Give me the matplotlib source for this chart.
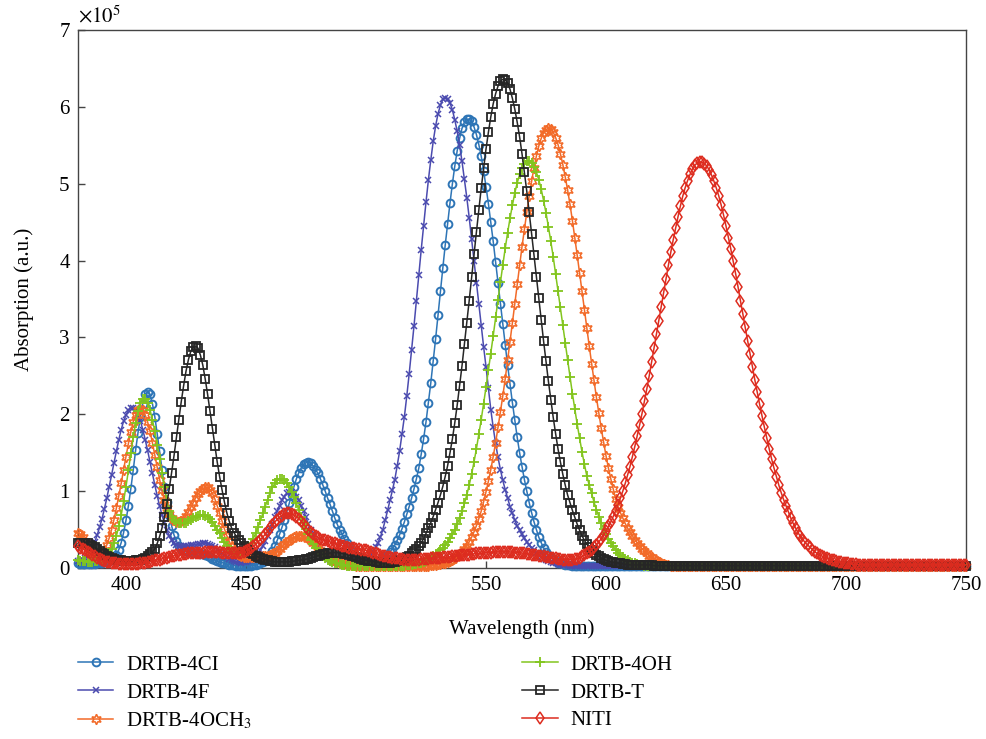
import numpy as np
import matplotlib
matplotlib.use('Agg')
import matplotlib.pyplot as plt

plt.rcParams['font.family'] = ['Liberation Serif', 'DejaVu Serif']
plt.rcParams['mathtext.fontset'] = 'stix'

# ---------------- data (absorption in units of 1e5 a.u.) ----------------
wavelength = np.arange(380, 751, 1)  # nm, 1 nm sampling (380 ... 750)

labels = ['DRTB-4CI', 'DRTB-4F', 'DRTB-4OCH$_3$', 'DRTB-4OH', 'DRTB-T', 'NITI']

absorb_4cl = [
    .06, .055, .05, .05, .05, .05, .05, .055, .06, .065,            # 380
    .07, .075, .08, .09, .10, .13, .17, .24, .33, .46,              # 390
    .62, .81, 1.03, 1.27, 1.53, 1.76, 1.97, 2.14, 2.26, 2.29,       # 400
    2.26, 2.14, 1.97, 1.75, 1.52, 1.28, 1.05, .86, .69, .55,        # 410
    .43, .35, .29, .25, .23, .22, .21, .205, .20, .195,             # 420
    .19, .185, .18, .17, .16, .14, .12, .105, .09, .08,             # 430
    .07, .06, .05, .045, .04, .035, .03, .03, .03, .03,             # 440
    .03, .03, .03, .035, .04, .05, .06, .08, .10, .13,              # 450
    .17, .22, .28, .36, .44, .53, .63, .73, .84, .95,               # 460
    1.06, 1.16, 1.24, 1.30, 1.35, 1.37, 1.38, 1.36, 1.33, 1.28,     # 470
    1.23, 1.16, 1.08, 1.00, .91, .83, .74, .65, .57, .50,           # 480
    .44, .38, .32, .27, .22, .18, .15, .12, .10, .08,               # 490
    .07, .065, .06, .065, .07, .085, .10, .12, .14, .17,            # 500
    .21, .25, .30, .36, .43, .51, .60, .70, .80, .91,               # 510
    1.03, 1.16, 1.30, 1.48, 1.68, 1.90, 2.15, 2.41, 2.69, 2.98,     # 520
    3.29, 3.60, 3.90, 4.20, 4.48, 4.75, 5.00, 5.23, 5.43, 5.59,     # 530
    5.72, 5.80, 5.84, 5.84, 5.81, 5.74, 5.64, 5.51, 5.36, 5.17,     # 540
    4.96, 4.74, 4.50, 4.25, 3.98, 3.71, 3.44, 3.17, 2.90, 2.64,     # 550
    2.39, 2.15, 1.92, 1.70, 1.50, 1.32, 1.15, 1.00, .85, .72,       # 560
    .60, .50, .40, .33, .26, .21, .17, .14, .11, .09,               # 570
    .07, .06, .05, .045, .04, .035, .03, .03, .03, .025,            # 580
    .02, .02, .02, .02, .02, .02, .02, .02, .02, .02,               # 590
    .02, .02, .02, .02, .02, .02, .02, .02, .02, .02,               # 600
    .02, .02, .02, .02, .02, .02, .02, .02, .02, .02,               # 610
    .02, .02, .02, .02, .02, .02, .02, .02, .02, .02,               # 620
    .02, .02, .02, .02, .02, .02, .02, .02, .02, .02,               # 630
    .02, .02, .02, .02, .02, .02, .02, .02, .02, .02,               # 640
    .02, .02, .02, .02, .02, .02, .02, .02, .02, .02,               # 650
    .02, .02, .02, .02, .02, .02, .02, .02, .02, .02,               # 660
    .02, .02, .02, .02, .02, .02, .02, .02, .02, .02,               # 670
    .02, .02, .02, .02, .02, .02, .02, .02, .02, .02,               # 680
    .02, .02, .02, .02, .02, .02, .02, .02, .02, .02,               # 690
    .02, .02, .02, .02, .02, .02, .02, .02, .02, .02,               # 700
    .02, .02, .02, .02, .02, .02, .02, .02, .02, .02,               # 710
    .02, .02, .02, .02, .02, .02, .02, .02, .02, .02,               # 720
    .02, .02, .02, .02, .02, .02, .02, .02, .02, .02,               # 730
    .02, .02, .02, .02, .02, .02, .02, .02, .02, .02,               # 740
    .02,                                                            # 750
]

absorb_4f = [
    .09, .10, .11, .13, .16, .21, .27, .34, .43, .53,
    .64, .77, .91, 1.06, 1.21, 1.37, 1.52, 1.67, 1.80, 1.91,
    1.99, 2.05, 2.08, 2.08, 2.05, 1.99, 1.91, 1.80, 1.67, 1.53,
    1.38, 1.23, 1.08, .94, .81, .69, .58, .49, .42, .36,
    .32, .30, .28, .28, .28, .285, .29, .295, .30, .305,
    .31, .315, .32, .32, .31, .30, .29, .27, .24, .22,
    .19, .165, .14, .12, .10, .09, .08, .075, .07, .075,
    .08, .09, .10, .12, .15, .19, .23, .29, .35, .42,
    .49, .57, .66, .74, .81, .88, .93, .97, .99, .99,
    .97, .93, .88, .81, .74, .66, .57, .49, .42, .35,
    .29, .24, .19, .15, .12, .10, .08, .07, .06, .055,
    .05, .05, .05, .05, .05, .055, .06, .07, .08, .095,
    .11, .14, .17, .22, .27, .33, .40, .50, .62, .75,
    .88, 1.01, 1.15, 1.33, 1.52, 1.74, 1.97, 2.24, 2.53, 2.84,
    3.15, 3.48, 3.81, 4.14, 4.45, 4.76, 5.05, 5.31, 5.55, 5.75,
    5.91, 6.02, 6.10, 6.12, 6.10, 6.05, 5.96, 5.83, 5.68, 5.50,
    5.29, 5.06, 4.82, 4.56, 4.28, 4.00, 3.71, 3.43, 3.15, 2.88,
    2.62, 2.34, 2.06, 1.83, 1.62, 1.44, 1.28, 1.14, 1.02, .91,
    .80, .71, .62, .55, .49, .44, .39, .34, .30, .26,
    .23, .20, .17, .145, .12, .105, .09, .08, .07, .06,
    .05, .045, .04, .037, .035, .032, .03, .03, .03, .025,
    .02, .02, .02, .02, .02, .02, .02, .02, .02, .02,
    .02, .02, .02, .02, .02, .02, .02, .02, .02, .02,
    .02, .02, .02, .02, .02, .02, .02, .02, .02, .02,
    .02, .02, .02, .02, .02, .02, .02, .02, .02, .02,
    .02, .02, .02, .02, .02, .02, .02, .02, .02, .02,
    .02, .02, .02, .02, .02, .02, .02, .02, .02, .02,
    .02, .02, .02, .02, .02, .02, .02, .02, .02, .02,
    .02, .02, .02, .02, .02, .02, .02, .02, .02, .02,
    .02, .02, .02, .02, .02, .02, .02, .02, .02, .02,
    .02, .02, .02, .02, .02, .02, .02, .02, .02, .02,
    .02, .02, .02, .02, .02, .02, .02, .02, .02, .02,
    .02, .02, .02, .02, .02, .02, .02, .02, .02, .02,
    .02, .02, .02, .02, .02, .02, .02, .02, .02, .02,
    .02, .02, .02, .02, .02, .02, .02, .02, .02, .02,
    .02, .02, .02, .02, .02, .02, .02, .02, .02, .02,
    .02, .02, .02, .02, .02, .02, .02, .02, .02, .02,
    .02,
]

absorb_4och3 = [
    .46, .44, .40, .34, .28, .22, .16, .14, .13, .15,
    .18, .23, .30, .39, .50, .63, .78, .94, 1.10, 1.28,
    1.45, 1.62, 1.77, 1.90, 1.99, 2.05, 2.07, 2.05, 1.99, 1.90,
    1.78, 1.63, 1.47, 1.31, 1.15, 1.01, .88, .78, .70, .65,
    .62, .60, .60, .61, .64, .68, .73, .79, .85, .91,
    .96, 1.00, 1.03, 1.05, 1.05, 1.02, .97, .90, .81, .71,
    .61, .51, .42, .35, .28, .23, .19, .17, .15, .145,
    .14, .14, .14, .14, .14, .145, .15, .15, .15, .16,
    .17, .185, .20, .22, .25, .28, .31, .34, .36, .38,
    .40, .41, .42, .42, .41, .40, .38, .36, .33, .30,
    .27, .235, .20, .175, .15, .13, .11, .095, .08, .07,
    .06, .055, .05, .045, .04, .035, .03, .03, .03, .03,
    .03, .03, .03, .03, .03, .03, .03, .03, .03, .03,
    .03, .03, .03, .03, .03, .03, .03, .03, .03, .03,
    .03, .03, .03, .03, .03, .03, .03, .035, .04, .045,
    .05, .055, .06, .07, .08, .095, .11, .13, .15, .18,
    .21, .25, .29, .34, .40, .47, .55, .64, .74, .86,
    .99, 1.13, 1.28, 1.45, 1.63, 1.83, 2.03, 2.24, 2.46, 2.70,
    2.94, 3.19, 3.44, 3.69, 3.94, 4.18, 4.41, 4.63, 4.84, 5.03,
    5.21, 5.36, 5.49, 5.59, 5.66, 5.70, 5.72, 5.71, 5.67, 5.60,
    5.51, 5.39, 5.25, 5.09, 4.92, 4.73, 4.52, 4.30, 4.07, 3.84,
    3.60, 3.36, 3.12, 2.89, 2.66, 2.44, 2.22, 2.02, 1.82, 1.64,
    1.46, 1.30, 1.16, 1.03, .90, .80, .72, .65, .58, .52,
    .47, .42, .37, .33, .29, .25, .22, .19, .16, .14,
    .12, .10, .08, .065, .05, .04, .035, .03, .025, .022,
    .02, .02, .02, .02, .02, .02, .02, .02, .02, .02,
    .02, .02, .02, .02, .02, .02, .02, .02, .02, .02,
    .02, .02, .02, .02, .02, .02, .02, .02, .02, .02,
    .02, .02, .02, .02, .02, .02, .02, .02, .02, .02,
    .02, .02, .02, .02, .02, .02, .02, .02, .02, .02,
    .02, .02, .02, .02, .02, .02, .02, .02, .02, .02,
    .02, .02, .02, .02, .02, .02, .02, .02, .02, .02,
    .02, .02, .02, .02, .02, .02, .02, .02, .02, .02,
    .02, .02, .02, .02, .02, .02, .02, .02, .02, .02,
    .02, .02, .02, .02, .02, .02, .02, .02, .02, .02,
    .02, .02, .02, .02, .02, .02, .02, .02, .02, .02,
    .02, .02, .02, .02, .02, .02, .02, .02, .02, .02,
    .02,
]

absorb_4oh = [
    .10, .095, .09, .085, .08, .08, .08, .085, .09, .10,
    .11, .13, .16, .20, .25, .32, .42, .54, .69, .87,
    1.06, 1.27, 1.49, 1.70, 1.89, 2.04, 2.15, 2.20, 2.20, 2.15,
    2.06, 1.93, 1.78, 1.60, 1.42, 1.23, 1.05, .88, .74, .67,
    .62, .60, .58, .58, .58, .59, .61, .63, .65, .67,
    .68, .69, .69, .68, .67, .64, .60, .55, .50, .45,
    .39, .34, .29, .25, .22, .21, .21, .21, .22, .23,
    .25, .28, .32, .38, .45, .53, .62, .71, .80, .89,
    .98, 1.05, 1.10, 1.14, 1.16, 1.16, 1.14, 1.10, 1.05, .99,
    .92, .84, .76, .67, .59, .51, .44, .37, .31, .26,
    .21, .18, .15, .13, .11, .095, .08, .07, .06, .05,
    .04, .035, .03, .03, .03, .025, .02, .02, .02, .02,
    .02, .02, .02, .02, .02, .02, .02, .02, .02, .02,
    .02, .02, .02, .02, .02, .025, .03, .035, .04, .045,
    .05, .055, .06, .07, .08, .095, .11, .13, .15, .17,
    .20, .23, .26, .30, .34, .39, .44, .50, .57, .65,
    .74, .84, .95, 1.08, 1.22, 1.38, 1.55, 1.74, 1.93, 2.14,
    2.35, 2.57, 2.79, 3.02, 3.26, 3.49, 3.72, 3.94, 4.16, 4.36,
    4.55, 4.72, 4.88, 5.01, 5.12, 5.20, 5.26, 5.29, 5.30, 5.27,
    5.22, 5.15, 5.05, 4.93, 4.78, 4.62, 4.44, 4.25, 4.05, 3.83,
    3.61, 3.39, 3.16, 2.93, 2.71, 2.49, 2.27, 2.07, 1.87, 1.69,
    1.51, 1.35, 1.20, 1.08, .97, .86, .76, .67, .58, .51,
    .44, .38, .33, .28, .24, .20, .17, .14, .12, .10,
    .08, .07, .06, .05, .04, .035, .03, .028, .025, .022,
    .02, .02, .02, .02, .02, .02, .02, .02, .02, .02,
    .02, .02, .02, .02, .02, .02, .02, .02, .02, .02,
    .02, .02, .02, .02, .02, .02, .02, .02, .02, .02,
    .02, .02, .02, .02, .02, .02, .02, .02, .02, .02,
    .02, .02, .02, .02, .02, .02, .02, .02, .02, .02,
    .02, .02, .02, .02, .02, .02, .02, .02, .02, .02,
    .02, .02, .02, .02, .02, .02, .02, .02, .02, .02,
    .02, .02, .02, .02, .02, .02, .02, .02, .02, .02,
    .02, .02, .02, .02, .02, .02, .02, .02, .02, .02,
    .02, .02, .02, .02, .02, .02, .02, .02, .02, .02,
    .02, .02, .02, .02, .02, .02, .02, .02, .02, .02,
    .02, .02, .02, .02, .02, .02, .02, .02, .02, .02,
    .02, .02, .02, .02, .02, .02, .02, .02, .02, .02,
    .02,
]

absorb_t = [
    .32, .325, .33, .33, .32, .305, .29, .27, .25, .225,
    .20, .18, .16, .145, .13, .12, .11, .105, .10, .095,
    .09, .09, .09, .095, .10, .105, .11, .12, .13, .15,
    .18, .21, .25, .32, .41, .52, .66, .83, 1.03, 1.24,
    1.46, 1.70, 1.93, 2.16, 2.37, 2.56, 2.71, 2.82, 2.88, 2.89,
    2.86, 2.77, 2.64, 2.46, 2.26, 2.04, 1.81, 1.59, 1.38, 1.19,
    1.02, .86, .72, .61, .52, .46, .41, .37, .33, .29,
    .26, .23, .20, .18, .16, .145, .13, .12, .11, .10,
    .09, .085, .08, .08, .08, .08, .08, .08, .08, .085,
    .09, .095, .10, .105, .11, .115, .12, .13, .14, .15,
    .16, .17, .18, .185, .19, .195, .20, .20, .20, .195,
    .19, .185, .18, .17, .16, .15, .14, .13, .12, .11,
    .10, .095, .09, .085, .08, .075, .07, .07, .07, .07,
    .07, .075, .08, .09, .10, .11, .12, .14, .16, .19,
    .22, .25, .29, .33, .38, .45, .52, .59, .67, .76,
    .85, .95, 1.06, 1.19, 1.33, 1.50, 1.68, 1.89, 2.12, 2.37,
    2.63, 2.91, 3.19, 3.48, 3.78, 4.08, 4.37, 4.66, 4.94, 5.20,
    5.45, 5.67, 5.87, 6.04, 6.17, 6.27, 6.33, 6.36, 6.35, 6.31,
    6.23, 6.11, 5.97, 5.80, 5.61, 5.39, 5.15, 4.90, 4.63, 4.35,
    4.07, 3.79, 3.51, 3.23, 2.95, 2.69, 2.43, 2.19, 1.96, 1.75,
    1.55, 1.38, 1.22, 1.08, .95, .85, .75, .66, .57, .49,
    .42, .36, .31, .27, .23, .20, .17, .15, .13, .115,
    .10, .09, .08, .075, .07, .065, .06, .055, .05, .045,
    .04, .04, .04, .04, .04, .04, .04, .04, .04, .04,
    .03, .03, .03, .03, .03, .03, .03, .03, .03, .03,
    .03, .03, .03, .03, .03, .03, .03, .03, .03, .03,
    .03, .03, .03, .03, .03, .03, .03, .03, .03, .03,
    .03, .03, .03, .03, .03, .03, .03, .03, .03, .03,
    .03, .03, .03, .03, .03, .03, .03, .03, .03, .03,
    .03, .03, .03, .03, .03, .03, .03, .03, .03, .03,
    .03, .03, .03, .03, .03, .03, .03, .03, .03, .03,
    .03, .03, .03, .03, .03, .03, .03, .03, .03, .03,
    .03, .03, .03, .03, .03, .03, .03, .03, .03, .03,
    .03, .03, .03, .03, .03, .03, .03, .03, .03, .03,
    .03, .03, .03, .03, .03, .03, .03, .03, .03, .03,
    .03, .03, .03, .03, .03, .03, .03, .03, .03, .03,
    .03, .03, .03, .03, .03, .03, .03, .03, .03, .03,
    .03,
]

absorb_niti = [
    .28, .265, .25, .23, .21, .19, .17, .15, .13, .115,
    .10, .09, .08, .075, .07, .065, .06, .055, .05, .05,
    .05, .05, .05, .05, .05, .055, .06, .065, .07, .075,
    .08, .09, .10, .105, .11, .12, .13, .135, .14, .15,
    .16, .165, .17, .175, .18, .185, .19, .19, .19, .195,
    .20, .20, .20, .205, .21, .21, .21, .21, .21, .205,
    .20, .20, .20, .195, .19, .19, .19, .195, .20, .21,
    .22, .24, .26, .28, .31, .34, .37, .40, .44, .48,
    .52, .56, .60, .63, .66, .68, .70, .71, .71, .70,
    .69, .67, .64, .61, .57, .53, .50, .47, .44, .42,
    .40, .38, .37, .36, .35, .34, .33, .32, .31, .30,
    .29, .28, .27, .265, .26, .255, .25, .245, .24, .235,
    .23, .22, .21, .20, .19, .18, .17, .16, .15, .145,
    .14, .135, .13, .125, .12, .115, .11, .11, .11, .11,
    .11, .11, .11, .115, .12, .12, .12, .125, .13, .13,
    .13, .135, .14, .14, .14, .145, .15, .155, .16, .165,
    .17, .17, .17, .175, .18, .185, .19, .19, .19, .195,
    .20, .20, .20, .205, .21, .21, .21, .21, .21, .21,
    .21, .205, .20, .20, .20, .195, .19, .185, .18, .175,
    .17, .165, .16, .155, .15, .145, .14, .135, .13, .125,
    .12, .115, .11, .11, .11, .11, .11, .115, .12, .13,
    .15, .17, .19, .21, .24, .27, .30, .34, .38, .43,
    .48, .54, .60, .67, .74, .82, .91, 1.00, 1.10, 1.21,
    1.32, 1.45, 1.58, 1.72, 1.86, 2.01, 2.17, 2.33, 2.50, 2.68,
    2.86, 3.04, 3.22, 3.40, 3.58, 3.76, 3.94, 4.11, 4.27, 4.42,
    4.57, 4.71, 4.84, 4.95, 5.04, 5.12, 5.19, 5.24, 5.27, 5.28,
    5.28, 5.26, 5.23, 5.18, 5.11, 5.03, 4.94, 4.84, 4.72, 4.59,
    4.45, 4.30, 4.15, 3.99, 3.83, 3.66, 3.48, 3.31, 3.13, 2.96,
    2.79, 2.62, 2.45, 2.29, 2.13, 1.98, 1.83, 1.69, 1.55, 1.42,
    1.30, 1.19, 1.08, .98, .89, .81, .73, .65, .58, .52,
    .46, .41, .37, .33, .30, .27, .24, .21, .19, .17,
    .155, .14, .13, .12, .11, .10, .09, .08, .075, .07,
    .065, .06, .055, .05, .05, .045, .045, .04, .04, .04,
    .04, .04, .04, .04, .04, .04, .04, .04, .04, .04,
    .04, .04, .04, .04, .04, .04, .04, .04, .04, .04,
    .04, .04, .04, .04, .04, .04, .04, .04, .04, .04,
    .04, .04, .04, .04, .04, .04, .04, .04, .04, .04,
    .04,
]

series = [absorb_4cl, absorb_4f, absorb_4och3, absorb_4oh, absorb_t, absorb_niti]
for s in series:
    assert len(s) == len(wavelength), len(s)

xticks = [400, 450, 500, 550, 600, 650, 700, 750]
yticks = [0, 1, 2, 3, 4, 5, 6, 7]

# ---------------- styles ----------------
styles = [
    dict(color='#2E75B6', marker='o', ms=5.6, mew=1.4, fillstyle='none'),
    dict(color='#4B4BAF', marker='x', ms=4.2, mew=1.1),
    dict(color='#F26A28', marker=(6, 1, 0), ms=7.5, mew=1.1, fillstyle='none'),
    dict(color='#82C51E', marker='+', ms=6.5, mew=1.3),
    dict(color='#262626', marker='s', ms=5.2, mew=1.3, fillstyle='none'),
    dict(color='#DD2C1F', marker='d', ms=6.5, mew=1.1, fillstyle='none'),
]

fig = plt.figure(figsize=(9.86, 7.39), dpi=100)
ax = fig.add_axes([78 / 986, 1 - 568 / 739, (966 - 78) / 986, (568 - 30) / 739])

handles = []
for vals, lab, st in zip(series, labels, styles):
    h, = ax.plot(wavelength, vals, lw=1.1, label=lab, clip_on=False, **st)
    handles.append(h)

ax.set_xlim(380, 750)
ax.set_ylim(0, 7)
ax.set_xticks(xticks)
ax.set_yticks(yticks)
ax.tick_params(direction='in', length=5, width=1.0, color='#444444',
               labelsize=15, pad=6, top=False, right=False)
for sp in ax.spines.values():
    sp.set_color('#444444')
    sp.set_linewidth(1.0)
    sp.set_zorder(0)

ax.set_xlabel('Wavelength (nm)', fontsize=15, labelpad=17)
ax.set_ylabel('Absorption (a.u.)', fontsize=15, labelpad=18)
ax.text(0.0, 1.005, r'$\times10^5$', transform=ax.transAxes, ha='left',
        va='bottom', fontsize=15)

fig.legend(handles=handles, labels=labels, ncol=2, loc='upper left',
           bbox_to_anchor=(78 / 986, 1 - 655 / 739), frameon=False,
           fontsize=15, handlelength=1.7, handletextpad=0.6,
           labelspacing=0.4, columnspacing=13.0, borderaxespad=0,
           borderpad=0)

fig.savefig('out.png', dpi=100)
